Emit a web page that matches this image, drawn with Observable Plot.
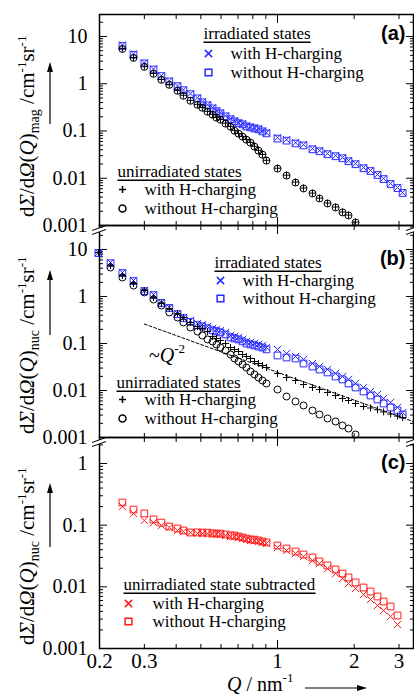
<!DOCTYPE html>
<html><head><meta charset="utf-8">
<script src="https://cdn.jsdelivr.net/npm/d3@7"></script>
<script src="https://cdn.jsdelivr.net/npm/@observablehq/plot@0.6"></script>
<style>
html,body{margin:0;padding:0;background:#fff;overflow:hidden;}
#fig{position:relative;width:414px;height:695px;overflow:hidden;background:#fff;}
#fig svg{display:block;overflow:visible;}
#overlay{position:absolute;left:0;top:0;}
</style></head><body><div id="fig"></div>
<script>
// ---------- data ----------
const q = [0.198, 0.221, 0.246, 0.272, 0.300, 0.326, 0.350, 0.376, 0.405, 0.427, 0.455, 0.485, 0.507, 0.531, 0.556, 0.576, 0.597, 0.625, 0.654, 0.678, 0.703, 0.729, 0.755, 0.783, 0.812, 0.842, 0.873, 0.905, 1.0, 1.085, 1.177, 1.265, 1.372, 1.462, 1.572, 1.69, 1.80, 1.90, 2.025, 2.177, 2.319, 2.47, 2.61, 2.78, 2.96, 3.10];

// (a) magnetic
const aIrrWith = [null, null, 6.62, 4.28, 2.76, 2.06, 1.47, 1.15, 0.903, 0.743, 0.612, 0.505, 0.415, 0.359, 0.31, 0.268, 0.243, 0.21, 0.182, 0.165, 0.15, 0.143, 0.129, 0.123, 0.117, 0.112, 0.101, 0.092, 0.0723, 0.0655, 0.0566, 0.0514, 0.0424, 0.0384, 0.0332, 0.0301, 0.0273, 0.0236, 0.0204, 0.0168, 0.0146, 0.012, 0.00986, 0.00773, 0.00637, 0.00499];
const aIrrWithout = [null, null, 6.3, 4.1, 2.7, 2.0, 1.45, 1.12, 0.89, 0.73, 0.60, 0.49, 0.405, 0.35, 0.30, 0.262, 0.236, 0.204, 0.177, 0.16, 0.146, 0.138, 0.125, 0.119, 0.113, 0.108, 0.098, 0.089, 0.069, 0.0625, 0.0545, 0.0495, 0.041, 0.0372, 0.0322, 0.0292, 0.0265, 0.0229, 0.0198, 0.0163, 0.0142, 0.0117, 0.0096, 0.00755, 0.0062, 0.00488];
const aUnirrWith = [null, null, 5.6, 3.6, 2.35, 1.66, 1.24, 0.97, 0.72, 0.57, 0.445, 0.366, 0.315, 0.26, 0.225, 0.195, 0.176, 0.146, 0.125, 0.103, 0.089, 0.077, 0.0665, 0.0575, 0.0475, 0.039, 0.032, 0.024, 0.0163, 0.0116, 0.0083, 0.0062, 0.00485, 0.0038, 0.00298, 0.00246, 0.00193, 0.00166, 0.00118, null, null, null, null, null, null, null];
const aUnirrWithout = [null, null, 5.45, 3.52, 2.28, 1.62, 1.21, 0.948, 0.708, 0.556, 0.436, 0.359, 0.31, 0.255, 0.221, 0.191, 0.173, 0.143, 0.123, 0.101, 0.0877, 0.0758, 0.0655, 0.0566, 0.0467, 0.0384, 0.0316, 0.0236, 0.016, 0.0114, 0.0081, 0.00607, 0.00476, 0.00373, 0.00292, 0.00241, 0.00189, 0.00163, 0.00116, null, null, null, null, null, null, null];

// (b) nuclear
const bIrrWith = [8.63, 5.28, 3.24, 2.19, 1.34, 1.10, 0.745, 0.583, 0.435, 0.357, 0.308, 0.267, 0.254, 0.23, 0.209, 0.199, 0.189, 0.171, 0.148, 0.141, 0.134, 0.122, 0.11, 0.105, 0.1, 0.095, 0.0906, 0.0822, 0.0745, 0.0612, 0.0529, 0.0457, 0.0375, 0.0324, 0.028, 0.023, 0.0199, 0.0172, 0.0141, 0.0116, 0.00953, 0.00822, 0.00676, 0.00556, 0.00435, 0.0034];
const bIrrWithout = [8.4, 5.1, 3.15, 2.13, 1.30, 1.07, 0.73, 0.57, 0.42, 0.345, 0.29, 0.245, 0.232, 0.21, 0.19, 0.181, 0.172, 0.156, 0.135, 0.128, 0.122, 0.111, 0.1, 0.095, 0.091, 0.086, 0.082, 0.075, 0.0556, 0.0504, 0.048, 0.0375, 0.0324, 0.028, 0.0242, 0.0199, 0.0172, 0.0141, 0.0116, 0.00953, 0.00783, 0.00644, 0.00529, 0.00435, 0.00375, 0.00308];
const bUnirrWith = [8.63, 4.57, 2.8, 1.89, 1.34, 0.953, 0.71, 0.556, 0.435, 0.357, 0.28, 0.23, 0.209, 0.18, 0.141, 0.128, 0.116, 0.1, 0.0822, 0.0745, 0.0676, 0.0583, 0.0529, 0.048, 0.0414, 0.0375, 0.034, 0.0308, 0.023, 0.0189, 0.0163, 0.0134, 0.0116, 0.0105, 0.00906, 0.00783, 0.00676, 0.00612, 0.00529, 0.00457, 0.00425, 0.0039, 0.0035, 0.00315, 0.00285, 0.00265];
const bUnirrWithout = [null, 4.14, 2.54, 1.71, 1.22, 0.863, 0.644, 0.457, 0.357, 0.28, 0.219, 0.18, 0.148, 0.122, 0.11, 0.095, 0.0822, 0.071, 0.0583, 0.048, 0.0414, 0.0357, 0.0308, 0.0254, 0.0219, 0.0189, 0.0163, 0.0141, 0.0105, 0.00745, 0.00583, 0.0048, 0.00375, 0.00308, 0.00254, 0.00219, 0.0018, 0.00155, 0.00116, null, null, null, null, null, null, null];
// ~Q^-2 guide line
const guideQ = [0.3, 3.4];
const guideV = [0.26, 0.0022];

// (c) unirradiated state subtracted
const cWith = [null, null, 0.201, 0.155, 0.119, 0.11, 0.0988, 0.0916, 0.082, 0.0789, 0.076, 0.0735, 0.073, 0.0728, 0.0722, 0.072, 0.0706, 0.068, 0.0655, 0.0652, 0.0631, 0.0608, 0.0586, 0.0564, 0.056, 0.0543, 0.0524, 0.0504, 0.0434, 0.0388, 0.0347, 0.031, 0.0267, 0.0239, 0.0198, 0.0164, 0.0137, 0.0113, 0.0094, 0.00751, 0.00623, 0.00498, 0.00413, 0.0033, 0.00245, null];
const cWithout = [null, null, 0.233, 0.179, 0.155, 0.124, 0.11, 0.0951, 0.0883, 0.082, 0.076, 0.0762, 0.0758, 0.0755, 0.0735, 0.0732, 0.0728, 0.0706, 0.068, 0.0678, 0.0655, 0.0631, 0.0608, 0.0586, 0.0582, 0.0564, 0.0543, 0.0524, 0.0468, 0.0418, 0.0374, 0.0334, 0.0299, 0.0258, 0.0222, 0.0191, 0.0164, 0.0142, 0.0118, 0.00976, 0.0084, 0.00697, 0.00578, 0.0048, 0.00343, null];

// ticks and texts
const yDecades = [0.001, 0.01, 0.1, 1, 10];
const xMinorTicks = [0.3, 0.4, 0.5, 0.6, 0.7, 0.8, 0.9, 2, 3];
const xMajorTicks = [1];
const xTickLabels = [0.2, 0.3, 0.5, 1, 2, 3];
const irrLegend = ["irradiated states", "with H-charging", "without H-charging"];
const unirrLegend = ["unirradiated states", "with H-charging", "without H-charging"];
const subLegend = ["unirradiated state subtracted", "with H-charging", "without H-charging"];

// ---------- styling ----------
const BLUE = "#2b2bff", RED = "#ff1c1c", BLACK = "#000";
const SERIF = "'Liberation Serif','Times New Roman',serif";
const SANS = "'Liberation Sans',Arial,sans-serif";
const SYM = {
  times: {symbol: "times", r: 3.4},
  square: {symbol: "square", r: 3.8},
  plus: {symbol: "plus", r: 2.4},
  circle: {symbol: "circle", r: 3.5}
};

const pts = vals => q.map((x, i) => ({q: x, v: vals[i]})).filter(d => d.v != null);

function dots(vals, sym, color) {
  return Plot.dot(pts(vals), {x: "q", y: "v", ...SYM[sym], stroke: color, fill: "none", strokeWidth: 1});
}

function legend(labels, syms, color, pos) {
  const [hx, hy, mx, tx, y1, y2] = pos;
  const t = (s, dx, dy) => Plot.text([s], {frameAnchor: "top-left", dx, dy, text: d => d, textAnchor: "start", lineAnchor: "middle", fontFamily: SERIF, fontSize: 17, fill: "black"});
  return [
    t(labels[0], hx, hy),
    Plot.dot([labels[1]], {frameAnchor: "top-left", dx: mx, dy: y1, ...SYM[syms[0]], stroke: color, fill: "none"}),
    t(labels[1], tx, y1),
    Plot.dot([labels[2]], {frameAnchor: "top-left", dx: mx, dy: y2, ...SYM[syms[1]], stroke: color, fill: "none"}),
    t(labels[2], tx, y2)
  ];
}

function panel({height, marginTop, marginBottom, yTop, marks, letter, letterDy, bottomLabels}) {
  const majors = yDecades.filter(t => t <= yTop);
  const minors = yDecades.flatMap(m => [2, 3, 4, 5, 6, 7, 8, 9].map(k => +(m * k).toPrecision(3))).filter(t => t < yTop);
  const tk = {label: null, fill: "none", stroke: "black", strokeWidth: 1};
  const all = [
    Plot.axisY(majors, {anchor: "left", tickSize: 0, tickPadding: 12, tickFormat: d => String(d), fontFamily: SERIF, fontSize: 20, fill: "black", label: null}),
    Plot.axisY(majors, {anchor: "left", tickSize: -8, ...tk}),
    Plot.axisY(minors, {anchor: "left", tickSize: -4, ...tk}),
    Plot.axisY(majors, {anchor: "right", tickSize: -8, ...tk}),
    Plot.axisY(minors, {anchor: "right", tickSize: -4, ...tk}),
    Plot.axisX(xMinorTicks, {anchor: "top", tickSize: -4, ...tk}),
    Plot.axisX(xMajorTicks, {anchor: "top", tickSize: -8, ...tk}),
    Plot.axisX(xMinorTicks, {anchor: "bottom", tickSize: -4, ...tk}),
    Plot.axisX(xMajorTicks, {anchor: "bottom", tickSize: -8, ...tk}),
    bottomLabels ? Plot.axisX(xTickLabels, {anchor: "bottom", tickSize: 0, tickPadding: 5, tickFormat: d => String(d), fontFamily: SERIF, fontSize: 21, fill: "black", label: null}) : null,
    ...marks,
    Plot.text([letter], {frameAnchor: "top-left", dx: 306, dy: letterDy, text: d => d, textAnchor: "end", lineAnchor: "middle", fontFamily: SANS, fontWeight: "bold", fontSize: 20, fill: "black"}),
    Plot.frame({stroke: "black", strokeWidth: 1.5})
  ];
  return Plot.plot({
    width: 414, height, marginLeft: 99, marginRight: 1, marginTop, marginBottom,
    x: {type: "log", domain: [0.2, 3.42], label: null},
    y: {type: "log", domain: [0.001, yTop], label: null},
    style: {fontFamily: SERIF, fontSize: "17px", overflow: "visible", background: "transparent", color: "black"},
    marks: all
  });
}

const fig = document.getElementById("fig");

const pA = panel({
  height: 225, marginTop: 14, marginBottom: 0, yTop: 29.2, letter: "(a)", letterDy: 19,
  marks: [
    dots(aIrrWith, "times", BLUE), dots(aIrrWithout, "square", BLUE),
    dots(aUnirrWith, "plus", BLACK), dots(aUnirrWithout, "circle", BLACK),
    ...legend(irrLegend, ["times", "square"], BLUE, [104, 19, 109, 131, 39, 58]),
    ...legend(unirrLegend, ["plus", "circle"], BLACK, [18, 157, 23, 45, 175, 194])
  ]
});
const pB = panel({
  height: 212, marginTop: 0, marginBottom: 0, yTop: 32.4, letter: "(b)", letterDy: 33,
  marks: [
    Plot.line(guideQ.map((x, i) => ({q: x, v: guideV[i]})), {x: "q", y: "v", stroke: "black", strokeWidth: 1, strokeDasharray: "3,2"}),
    dots(bIrrWith, "times", BLUE), dots(bIrrWithout, "square", BLUE),
    dots(bUnirrWith, "plus", BLACK), dots(bUnirrWithout, "circle", BLACK),
    ...legend(irrLegend, ["times", "square"], BLUE, [115, 37, 121, 143, 55, 73]),
    ...legend(unirrLegend, ["plus", "circle"], BLACK, [17, 157, 23, 45, 174, 193])
  ]
});
const pC = panel({
  height: 258, marginTop: 0, marginBottom: 47, yTop: 2.64, letter: "(c)", letterDy: 25, bottomLabels: true,
  marks: [
    dots(cWith, "times", RED), dots(cWithout, "square", RED),
    ...legend(subLegend, ["times", "square"], RED, [24, 147, 29, 53, 166, 184])
  ]
});
fig.append(pA, pB, pC);

// ---------- overlay: axis titles, arrows, underlines, axis breaks ----------
const ov = d3.select(fig).append("svg").attr("id", "overlay").attr("width", 414).attr("height", 695);

function yLabel(sub, x, y) {
  const t = ov.append("text").attr("transform", `translate(${x},${y}) rotate(-90)`)
    .attr("font-family", SERIF).attr("font-size", 21).attr("fill", "black");
  t.append("tspan").text("d");
  t.append("tspan").attr("font-style", "italic").text("Σ");
  t.append("tspan").text("/d");
  t.append("tspan").attr("font-style", "italic").text("Ω");
  t.append("tspan").text("(");
  t.append("tspan").attr("font-style", "italic").text("Q");
  t.append("tspan").text(")");
  t.append("tspan").attr("font-size", 14).attr("dy", 5).text(sub);
  t.append("tspan").attr("dy", -5).text(" /cm");
  t.append("tspan").attr("font-size", 13).attr("dy", -8).text("-1");
  t.append("tspan").attr("dy", 8).text("sr");
  t.append("tspan").attr("font-size", 13).attr("dy", -8).text("-1");
}
yLabel("mag", 34, 217);
yLabel("nuc", 34, 434);
yLabel("nuc", 34, 645);

function vArrow(x, y0, y1) {
  ov.append("line").attr("x1", x).attr("x2", x).attr("y1", y0).attr("y2", y1 + 6).attr("stroke", "black").attr("stroke-width", 1.2);
  ov.append("path").attr("d", `M${x},${y1}L${x - 3},${y1 + 10}L${x + 3},${y1 + 10}Z`).attr("fill", "black");
}
vArrow(50, 124, 62);
vArrow(50, 335, 270);
vArrow(50, 547, 483);

function hArrow(x0, x1, y) {
  ov.append("line").attr("x1", x0).attr("x2", x1 - 6).attr("y1", y).attr("y2", y).attr("stroke", "black").attr("stroke-width", 1.2);
  ov.append("path").attr("d", `M${x1},${y}L${x1 - 10},${y - 3}L${x1 - 10},${y + 3}Z`).attr("fill", "black");
}
hArrow(305, 367, 688);

const xl = ov.append("text").attr("x", 227).attr("y", 691).attr("font-family", SERIF).attr("font-size", 20).attr("fill", "black");
xl.append("tspan").attr("font-style", "italic").text("Q");
xl.append("tspan").text(" / nm");
xl.append("tspan").attr("font-size", 13).attr("dy", -9).text("-1");

const ql = ov.append("text").attr("x", 149).attr("y", 362).attr("font-family", SERIF).attr("font-size", 20).attr("fill", "black");
ql.append("tspan").text("~");
ql.append("tspan").attr("font-style", "italic").text("Q");
ql.append("tspan").attr("font-size", 13).attr("dy", -9).text("-2");

// underline legend headings
const figRect = fig.getBoundingClientRect();
const heads = new Set([irrLegend[0], unirrLegend[0], subLegend[0]]);
fig.querySelectorAll("svg text").forEach(el => {
  if (!heads.has(el.textContent)) return;
  const r = el.getBoundingClientRect();
  const yb = r.bottom - figRect.top - 0.216 * 17 + 3;
  ov.append("line").attr("x1", r.left - figRect.left).attr("x2", r.right - figRect.left)
    .attr("y1", yb).attr("y2", yb).attr("stroke", "black").attr("stroke-width", 1.6);
});

// axis-break marks
function brk(x, y) {
  ov.append("rect").attr("x", x - 3).attr("y", y - 2).attr("width", 6).attr("height", 4).attr("fill", "white");
  for (const d of [-2, 2]) {
    ov.append("line").attr("x1", x - 7).attr("y1", y + d + 2.5).attr("x2", x + 7).attr("y2", y + d - 2.5)
      .attr("stroke", "black").attr("stroke-width", 1);
  }
}
brk(99, 230); brk(413, 230);
brk(99, 442); brk(413, 442);
</script>
</body></html>
